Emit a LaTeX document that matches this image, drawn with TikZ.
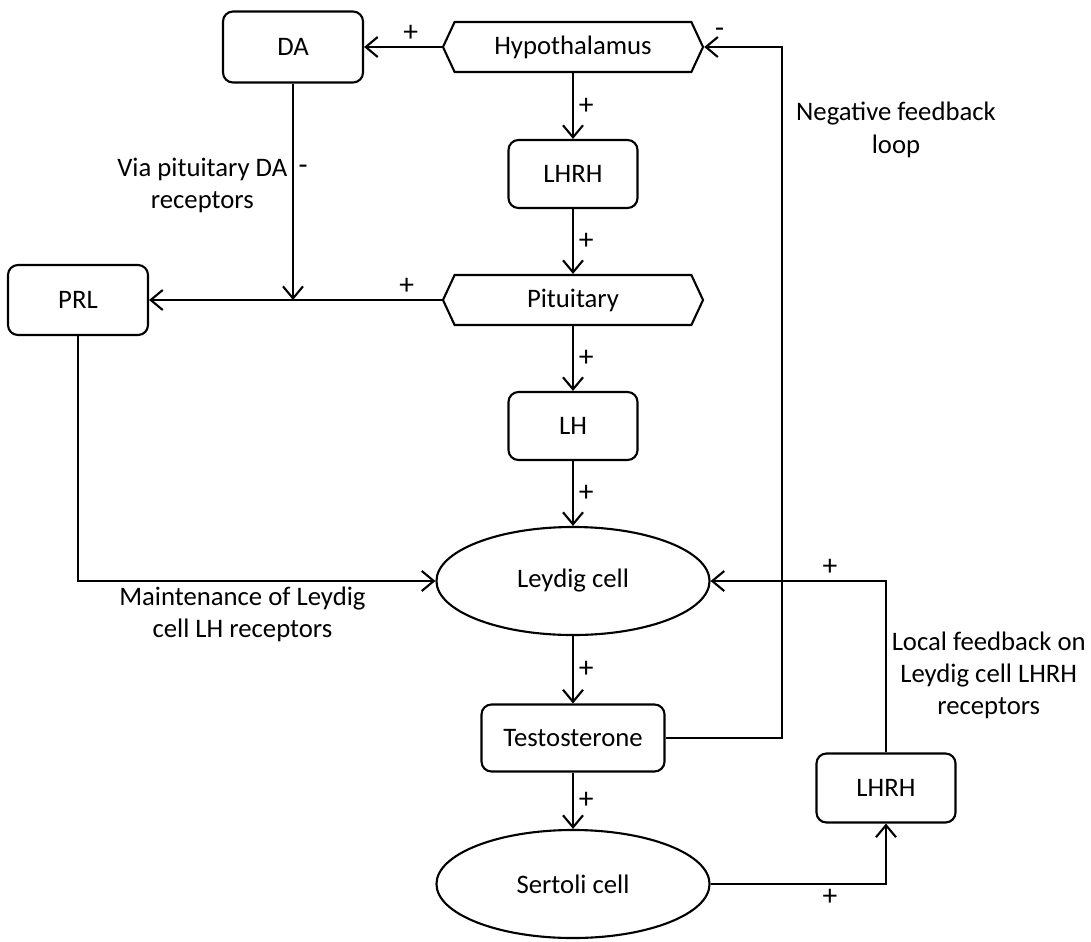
\documentclass[tikz,border=0pt]{standalone}
\usepackage{fontspec}
\setmainfont{Carlito}
\usepackage{tikz}
\usetikzlibrary{arrows.meta,positioning,shapes.geometric,shapes.symbols}

\begin{document}
\begin{tikzpicture}[
    x=0.025cm, y=-0.025cm,
    >={Straight Barb[length=3mm, width=5mm]},
    every node/.style={font=\fontsize{19}{23}\selectfont},
    box/.style={draw, line width=1.5pt, rounded corners=2.5mm, fill=white},
    hexa/.style={draw, line width=1.5pt, signal, signal to=west and east,
                 signal pointer angle=130, minimum width=6.5cm, minimum height=1.25cm},
    cellshape/.style={draw, line width=1.5pt, ellipse, minimum width=6.825cm, minimum height=2.7cm},
    lbl/.style={align=center},
    sign/.style={font=\fontsize{21}{23}\selectfont},
    wire/.style={line width=1.5pt},
  ]
  \useasboundingbox (0,0) rectangle (1091,941);

  % ---------------- top row
  \node[hexa] (hyp) at (573,47) {Hypothalamus};
  \node[box, minimum width=3.5cm, minimum height=1.775cm] (da) at (293,47) {DA};
  \draw[->,wire] (hyp.west) -- node[sign, above, pos=0.4] {+} (da.east);

  % ---------------- pituitary
  \node[box, minimum width=3.225cm, minimum height=1.7cm] (lhrh) at (573,174) {LHRH};
  \draw[->,wire] (hyp.south) -- node[sign, right] {+} (lhrh.north);
  \node[hexa] (pit) at (573,300) {Pituitary};
  \draw[->,wire] (lhrh.south) -- node[sign, right] {+} (pit.north);
  \node[box, minimum width=3.5cm, minimum height=1.75cm] (prl) at (78,300) {PRL};
  \draw[->,wire] (pit.west) -- node[sign, above, pos=0.12] {+} (prl.east);
  \draw[->,wire] (da.south) -- node[lbl, left, pos=0.47] {Via pituitary DA\\receptors}
       node[sign, right, pos=0.4] {-} (da.south |- prl.east);

  % ---------------- Leydig cell
  \node[box, minimum width=3.225cm, minimum height=1.7cm] (lh) at (573,426) {LH};
  \draw[->,wire] (pit.south) -- node[sign, right] {+} (lh.north);
  \node[cellshape] (ley) at (573,581) {Leydig cell};
  \draw[->,wire] (lh.south) -- node[sign, right] {+} (ley.north);
  \draw[->,wire] (prl.south) |- node[lbl, below, pos=0.73] {Maintenance of Leydig\\cell LH receptors} (ley.west);

  % ---------------- testosterone
  \node[box, minimum width=4.575cm, minimum height=1.675cm] (tst) at (573,738) {Testosterone};
  \draw[->,wire] (ley.south) -- node[sign, right] {+} (tst.north);
  \coordinate (nf) at (782,0);
  \draw[->,wire] (tst.east) -- (tst.east -| nf)
       -- node[lbl, right, pos=0.88, xshift=6] {Negative feedback\\loop} (hyp.east -| nf)
       -- node[sign, above, pos=0.8, yshift=3] {-} (hyp.east);

  % ---------------- Sertoli cell
  \node[cellshape] (ser) at (573,884) {Sertoli cell};
  \draw[->,wire] (tst.south) -- node[sign, right] {+} (ser.north);
  \node[box, minimum width=3.475cm, minimum height=1.725cm] (lhrhb) at (886,788) {LHRH};
  \draw[->,wire] (ser.east) -| node[sign, below, pos=0.34] {+} (lhrhb.south);
  \draw[->,wire] (lhrhb.north) -- node[lbl, right, pos=0.45] {Local feedback on\\Leydig cell LHRH\\receptors}
       (lhrhb.north |- ley.east) -- node[sign, above, pos=0.32] {+} (ley.east);
\end{tikzpicture}
\end{document}
